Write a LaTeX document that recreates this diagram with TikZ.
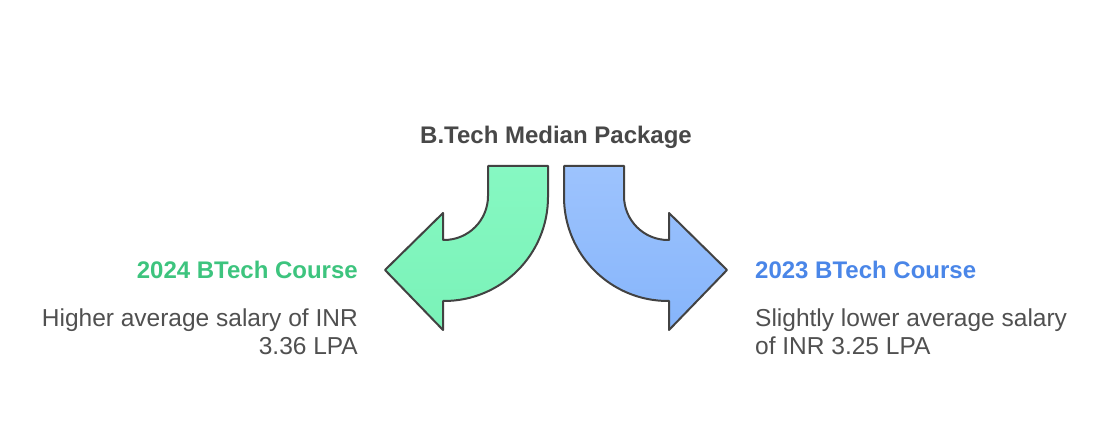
\documentclass[tikz,border=0pt]{standalone}
\usepackage{fontspec}
\setmainfont{Liberation Sans}
\definecolor{myTitleGray}{RGB}{72,72,72}
\definecolor{myTextGray}{RGB}{80,80,80}
\definecolor{myEdgeGray}{RGB}{66,66,66}
\definecolor{myGreen}{RGB}{61,196,126}
\definecolor{myLightGreen}{RGB}{134,248,194}
\definecolor{myMidGreen}{RGB}{122,242,184}
\definecolor{myBlue}{RGB}{74,134,232}
\definecolor{myLightBlue}{RGB}{157,195,253}
\definecolor{myMidBlue}{RGB}{134,181,251}

\begin{document}
\begin{tikzpicture}[%
    x=1pt,y=1pt,
    every node/.style={
        inner sep=0pt,
        font=\fontsize{24.5}{28}\selectfont,
    },
    headfont/.style={
        font=\fontsize{24}{28}\selectfont\bfseries,
    },
    arrowshape/.style={
        draw=myEdgeGray,
        line width=2pt,
        line join=round,
    },
]
% fix the page size
\useasboundingbox[fill=white] (0,0) rectangle (1113,423);

% draw title
\node[anchor=base,text=myTitleGray,headfont] (title) at (556,279) {B.Tech Median Package};

% draw left arrow
\shade[arrowshape,top color=myLightGreen,bottom color=myMidGreen]
    (488,257) -- (548,257) -- (548,226)
    arc[start angle=0,end angle=-90,radius=104]
    -- (443,122) -- (443,93) -- (385,153) -- (443,210) -- (443,183)
    -- (444,183) arc[start angle=-90,end angle=0,radius=44]
    -- cycle;

% draw right arrow
\shade[arrowshape,top color=myLightBlue,bottom color=myMidBlue]
    (624,257) -- (564,257) -- (564,226)
    arc[start angle=180,end angle=270,radius=104]
    -- (669,122) -- (669,93) -- (727,153) -- (669,210) -- (669,183)
    -- (668,183) arc[start angle=270,end angle=180,radius=44]
    -- cycle;

% place left labels
\node[anchor=base east,text=myGreen,headfont] (leftHead) at (358,144) {2024 BTech Course};
\node[anchor=north east,align=right,text=myTextGray] (leftText) at (358,114)
    {Higher average salary of INR\\3.36 LPA};

% place right labels
\node[anchor=base west,text=myBlue,headfont] (rightHead) at (755,144) {2023 BTech Course};
\node[anchor=north west,align=left,text=myTextGray] (rightText) at (755,114)
    {Slightly lower average salary\\of INR 3.25 LPA};
\end{tikzpicture}
\end{document}
